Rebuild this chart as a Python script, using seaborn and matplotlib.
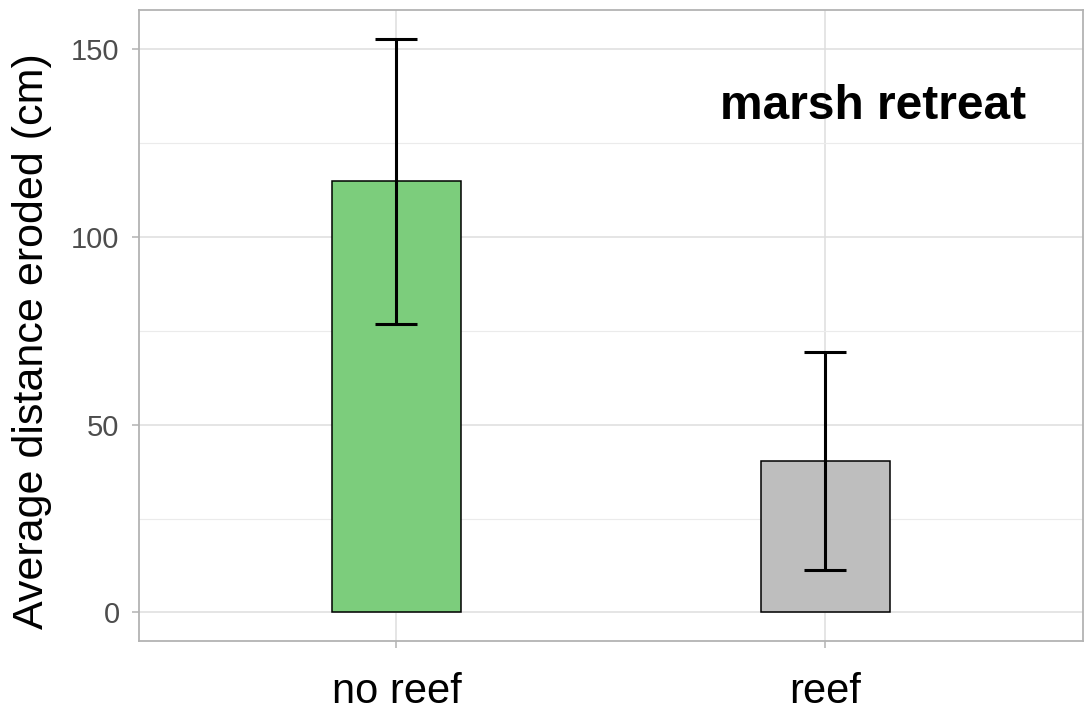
import matplotlib
matplotlib.use("Agg")
import matplotlib.pyplot as plt
import seaborn as sns
import pandas as pd
from matplotlib.ticker import MultipleLocator

# Mean erosion distance per treatment with error bar limits
categories = ["no reef", "reef"]
means = [114.7, 40.3]
err_low = [76.7, 11.4]
err_high = [152.6, 69.3]
bar_colors = ["#7CCD7C", "#BEBEBE"]

y_ticks = [0, 50, 100, 150]
y_label = "Average distance eroded (cm)"
panel_label = "marsh retreat"

sns.set_theme(style="white")
plt.rcParams["font.family"] = ["Liberation Sans", "DejaVu Sans"]

df = pd.DataFrame({"treatment": categories, "distance": means})

fig = plt.figure(figsize=(10.84, 7.14), dpi=100)
ax = fig.add_axes([0.1282, 0.1022, 0.8708, 0.8838])

sns.barplot(data=df, x="treatment", y="distance", hue="treatment",
            palette=bar_colors, saturation=1, width=0.3, edgecolor="black",
            linewidth=1.1, legend=False, errorbar=None, ax=ax, zorder=3)

xpos = list(range(len(categories)))
lower = [m - lo for m, lo in zip(means, err_low)]
upper = [hi - m for m, hi in zip(means, err_high)]
ax.errorbar(xpos, means, yerr=[lower, upper], fmt="none", ecolor="black",
            elinewidth=2.2, capsize=15, capthick=2.2, zorder=4)

ax.set_xlim(-0.6, 1.6)
ax.set_ylim(-7.6, 160.3)
ax.set_yticks(y_ticks)
ax.yaxis.set_minor_locator(MultipleLocator(25))

# light theme: grey grid, grey border, grey ticks
ax.set_axisbelow(True)
ax.grid(True, which="major", color="#DEDEDE", linewidth=1.1, zorder=0)
ax.grid(True, which="minor", axis="y", color="#EBEBEB", linewidth=0.8, zorder=0)
for s in ax.spines.values():
    s.set_visible(True)
    s.set_color("#B3B3B3")
    s.set_linewidth(1.3)

ax.tick_params(axis="both", which="major", length=5, width=1.1, color="#B3B3B3",
               direction="out", bottom=True, left=True)
ax.tick_params(axis="both", which="minor", length=0)
ax.tick_params(axis="y", labelsize=21, labelcolor="#4D4D4D", pad=9)
ax.tick_params(axis="x", labelsize=30, labelcolor="black", pad=17)

ax.set_xlabel("")
ax.set_ylabel(y_label, fontsize=31, color="black")
ax.yaxis.set_label_coords(-0.092, 0.476)

ax.text(1.11, 134.5, panel_label, fontsize=34.5, fontweight="bold",
        ha="center", va="center", color="black", zorder=5)

fig.savefig("out.png", dpi=100)
